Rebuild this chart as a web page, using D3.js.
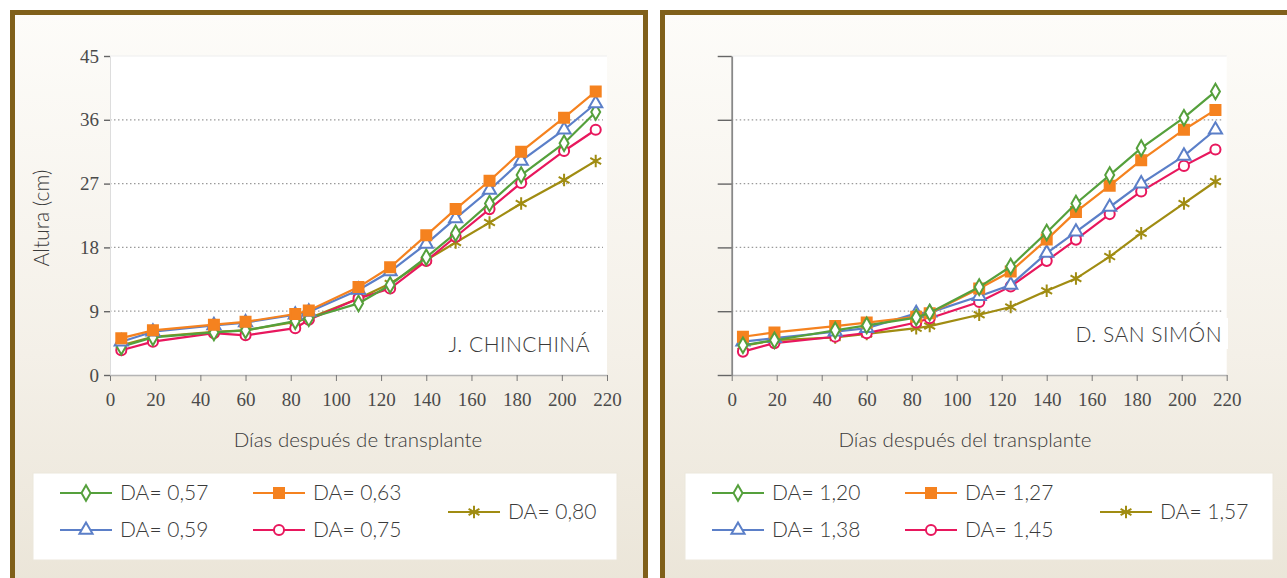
<!DOCTYPE html>
<html>
<head>
<meta charset="utf-8">
<script src="https://cdn.jsdelivr.net/npm/d3@7"></script>
<style>
html,body{margin:0;padding:0;background:#fff;}
svg{display:block;}
</style>
</head>
<body>
<svg id="chart" width="1287" height="578"></svg>
<script>
// ---------- DATA ----------
const days = [5, 19, 46, 60, 82, 88, 110, 124, 140, 153, 168, 182, 201, 215];
const xTicks = [0, 20, 40, 60, 80, 100, 120, 140, 160, 180, 200, 220];
const yTicks = [0, 9, 18, 27, 36, 45];

// J. Chinchiná
const chin_057 = [4.0, 5.3, 6.0, 6.3, 7.6, 8.0, 10.1, 12.7, 16.6, 20.0, 24.2, 28.2, 32.7, 37.1];
const chin_063 = [5.2, 6.3, 7.1, 7.5, 8.6, 9.1, 12.4, 15.2, 19.7, 23.4, 27.4, 31.5, 36.3, 40.0];
const chin_059 = [4.7, 6.1, 7.0, 7.4, 8.5, 8.9, 12.0, 14.6, 18.5, 22.1, 26.1, 30.2, 34.6, 38.3];
const chin_075 = [3.5, 4.7, 5.9, 5.6, 6.6, 7.8, 10.8, 12.2, 16.1, 19.5, 23.4, 27.1, 31.6, 34.6];
const chin_080 = [4.2, 5.4, 6.1, 6.3, 7.5, 8.0, 10.8, 12.9, 16.2, 18.7, 21.5, 24.2, 27.5, 30.2];

// D. San Simón
const sans_120 = [4.2, 4.9, 6.3, 7.0, 8.1, 8.8, 12.4, 15.3, 20.1, 24.2, 28.2, 32.0, 36.3, 40.0];
const sans_127 = [5.4, 6.0, 6.9, 7.4, 8.2, 8.7, 12.2, 14.6, 19.1, 23.0, 26.7, 30.3, 34.6, 37.4];
const sans_138 = [4.7, 5.2, 6.1, 6.6, 8.7, 8.8, 11.1, 12.7, 17.2, 20.2, 23.7, 27.0, 30.9, 34.6];
const sans_145 = [3.3, 4.5, 5.4, 5.9, 7.4, 8.0, 10.3, 12.5, 16.1, 19.1, 22.7, 25.9, 29.5, 31.8];
const sans_157 = [4.1, 4.9, 5.3, 5.8, 6.6, 6.9, 8.5, 9.6, 11.9, 13.6, 16.7, 20.0, 24.2, 27.3];

const chinLabels = ["DA= 0,57", "DA= 0,63", "DA= 0,59", "DA= 0,75", "DA= 0,80"];
const sansLabels = ["DA= 1,20", "DA= 1,27", "DA= 1,38", "DA= 1,45", "DA= 1,57"];

// ---------- STYLE ----------
const colors = ["#55a03c", "#f5821f", "#5b7fc8", "#e8175d", "#a08c12"];
const symbols = [d3.symbolDiamond, d3.symbolSquare, d3.symbolTriangle, d3.symbolCircle, d3.symbolAsterisk];
const symSizes = [70, 100, 75, 80, 110];
const filled = [false, true, false, false, false];
const borderColor = "#80601a";
const textFont = "Lato, 'Liberation Sans', sans-serif";
const numFont = "'Liberation Serif', 'DejaVu Serif', serif";
const textColor = "#3a3a3a";

const svg = d3.select("#chart");
const defs = svg.append("defs");
const grad = defs.append("linearGradient").attr("id", "bg").attr("x1", 0).attr("y1", 0).attr("x2", 0).attr("y2", 1);
grad.append("stop").attr("offset", "0%").attr("stop-color", "#fdfcf9");
grad.append("stop").attr("offset", "55%").attr("stop-color", "#f4f0e8");
grad.append("stop").attr("offset", "100%").attr("stop-color", "#e9e3d5");

function panel(cfg) {
  const g = svg.append("g");
  g.append("rect").attr("x", cfg.px).attr("y", 12.5).attr("width", cfg.pw).attr("height", 620)
    .attr("fill", "url(#bg)").attr("stroke", borderColor).attr("stroke-width", 5);

  const x = d3.scaleLinear().domain([0, 220]).range(cfg.xr);
  const y = d3.scaleLinear().domain([0, 45]).range([375, 56]);

  g.append("rect").attr("x", x(0)).attr("y", y(45)).attr("width", x(220) - x(0)).attr("height", y(0) - y(45))
    .attr("fill", "#ffffff");
  g.append("line").attr("x1", x(0)).attr("x2", x(220)).attr("y1", y(45)).attr("y2", y(45))
    .attr("stroke", "#eeeeee").attr("stroke-width", 1);

  g.selectAll(".grid").data(yTicks.filter(d => d > 0 && d < 45)).enter().append("line")
    .attr("x1", x(0)).attr("x2", x(220) - 4).attr("y1", d => y(d)).attr("y2", d => y(d))
    .attr("stroke", "#9a9a9a").attr("stroke-width", 1.3).attr("stroke-dasharray", "1.5,2.5");

  const lab = g.append("text").attr("x", cfg.labX).attr("y", cfg.labY)
    .attr("text-anchor", "end").attr("font-family", textFont).attr("font-weight", 300).attr("font-size", 21)
    .attr("fill", textColor).attr("letter-spacing", 0.5).text(cfg.site);
  const bb = lab.node().getBBox();
  g.insert("rect", "text").attr("x", bb.x - 8).attr("y", bb.y - 3).attr("width", bb.width + 14).attr("height", bb.height + 6)
    .attr("fill", "#fff");

  const xa = g.append("g").attr("transform", `translate(0,${y(0)})`)
    .call(d3.axisBottom(x).tickValues(xTicks).tickSize(6).tickPadding(12).tickSizeOuter(0));
  xa.select(".domain").attr("stroke", "#b5b5b5").attr("stroke-width", 1.5);
  xa.selectAll(".tick line").attr("stroke", "#777");
  xa.selectAll(".tick text").attr("font-family", numFont).attr("font-size", 19).attr("fill", "#4a4a4a");

  const ya = g.append("g").attr("transform", `translate(${x(0)},0)`)
    .call(d3.axisLeft(y).tickValues(yTicks).tickSize(cfg.showY ? 6 : 14).tickPadding(5).tickSizeOuter(0)
      .tickFormat(cfg.showY ? d3.format("d") : () => ""));
  ya.select(".domain").attr("stroke", cfg.showY ? "#dddddd" : "#888").attr("stroke-width", cfg.showY ? 1 : 1.8);
  ya.selectAll(".tick line").attr("stroke", "#666").attr("stroke-width", 1.4);
  ya.selectAll(".tick text").attr("font-family", numFont).attr("font-size", 19).attr("fill", "#4a4a4a");

  g.append("text").attr("x", cfg.xtX).attr("y", 447).attr("text-anchor", "middle")
    .attr("font-family", textFont).attr("font-weight", 300).attr("font-size", 20.5).attr("fill", textColor).text(cfg.xTitle);
  if (cfg.showY) {
    g.append("text").attr("transform", "translate(49,218) rotate(-90)").attr("text-anchor", "middle")
      .attr("font-family", textFont).attr("font-weight", 300).attr("font-size", 21).attr("fill", textColor).text("Altura (cm)");
  }

  const line = d3.line().x((d, i) => x(days[i])).y(d => y(d));
  cfg.order.forEach(k => {
    const vals = cfg.series[k];
    g.append("path").datum(vals).attr("d", line).attr("fill", "none")
      .attr("stroke", colors[k]).attr("stroke-width", 2.2);
    g.selectAll(null).data(vals).enter().append("path")
      .attr("transform", (d, i) => `translate(${x(days[i])},${y(d)})`)
      .attr("d", d3.symbol().type(symbols[k]).size(symSizes[k]))
      .attr("fill", filled[k] ? colors[k] : (k === 4 ? "none" : "#fff"))
      .attr("stroke", colors[k]).attr("stroke-width", 2);
  });

  const lg = g.append("g");
  lg.append("rect").attr("x", cfg.lgX).attr("y", 473).attr("width", cfg.lgW).attr("height", 87)
    .attr("fill", "#fff").attr("stroke", "#ece7dc").attr("stroke-width", 1);
  const pos = [
    [cfg.lgX + 27, 493], [cfg.lgX + 220, 493],
    [cfg.lgX + 27, 530], [cfg.lgX + 220, 530],
    [cfg.lgX + 415, 512]
  ];
  cfg.labels.forEach((t, k) => {
    const [lx, ly] = pos[k];
    lg.append("line").attr("x1", lx).attr("x2", lx + 52).attr("y1", ly).attr("y2", ly)
      .attr("stroke", colors[k]).attr("stroke-width", 2.2);
    lg.append("path").attr("transform", `translate(${lx + 26},${ly})`)
      .attr("d", d3.symbol().type(symbols[k]).size(symSizes[k]))
      .attr("fill", filled[k] ? colors[k] : (k === 4 ? "none" : "#fff"))
      .attr("stroke", colors[k]).attr("stroke-width", 2);
    lg.append("text").attr("x", lx + 60).attr("y", ly + 7).attr("font-family", textFont).attr("font-weight", 300)
      .attr("font-size", 21).attr("fill", textColor).text(t);
  });
}

panel({
  px: 12.5, pw: 633, xr: [110, 607], showY: true,
  site: "J. CHINCHINÁ", labX: 590, labY: 352,
  xTitle: "Días después de transplante", xtX: 358,
  series: [chin_057, chin_063, chin_059, chin_075, chin_080],
  order: [4, 3, 0, 2, 1], labels: chinLabels,
  lgX: 33, lgW: 584
});
panel({
  px: 662.5, pw: 640, xr: [731.7, 1226.7], showY: false,
  site: "D. SAN SIMÓN", labX: 1222, labY: 342,
  xTitle: "Días después del transplante", xtX: 965,
  series: [sans_120, sans_127, sans_138, sans_145, sans_157],
  order: [4, 3, 2, 1, 0], labels: sansLabels,
  lgX: 685, lgW: 588
});
</script>
</body>
</html>
